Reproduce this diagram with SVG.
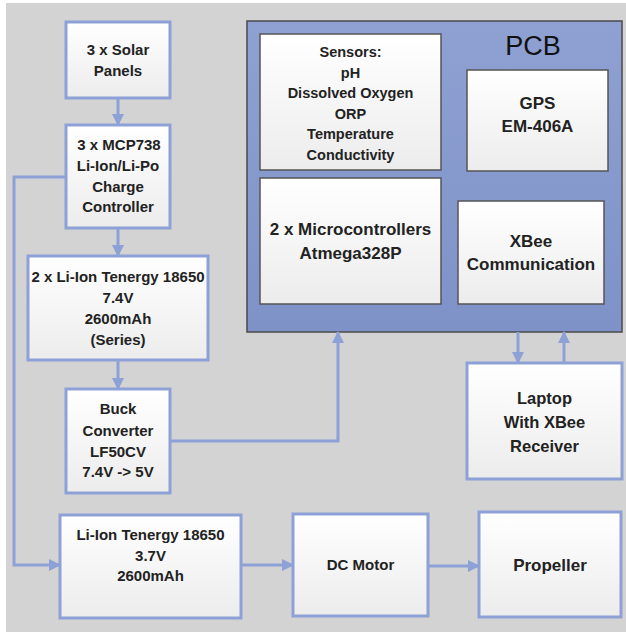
<svg xmlns="http://www.w3.org/2000/svg" width="626" height="632" viewBox="0 0 626 632">
<defs>
<linearGradient id="boxg" x1="0" y1="0" x2="0" y2="1">
<stop offset="0" stop-color="#ffffff"/>
<stop offset="1" stop-color="#ececec"/>
</linearGradient>
<linearGradient id="pcbg" x1="0" y1="0" x2="0" y2="1">
<stop offset="0" stop-color="#8fa1d2"/>
<stop offset="1" stop-color="#7e92c8"/>
</linearGradient>
<marker id="ah" viewBox="0 0 12 12" refX="11" refY="6" markerWidth="12" markerHeight="12" markerUnits="userSpaceOnUse" orient="auto">
<path d="M0,0 L12,6 L0,12 Z" fill="#8ea1d6"/>
</marker>
<style>
.ob{fill:url(#boxg);stroke:#8ea1d6;stroke-width:3}
.ib{fill:url(#boxg);stroke:#555;stroke-width:1.5}
.t{font-family:"Liberation Sans",Arial,sans-serif;font-weight:bold;fill:#222;text-anchor:middle}
.s15{font-size:15px}
.s145{font-size:14.5px}
.s17{font-size:17px}
.c{fill:none;stroke:#8ea1d6;stroke-width:3;marker-end:url(#ah)}
</style>
</defs>
<rect x="6" y="3" width="620" height="629" fill="#d3d3d3"/>

<g id="pcb">
<rect x="247" y="21" width="375" height="311" fill="url(#pcbg)" stroke="#4a4a4a" stroke-width="1.5"/>
<text x="533" y="55" font-family="'Liberation Sans',Arial,sans-serif" font-size="27" fill="#111" text-anchor="middle">PCB</text>
</g>

<g id="sensors">
<rect class="ib" x="260" y="34" width="181" height="136"/>
<text class="t s145"><tspan x="350.5" y="57">Sensors:</tspan><tspan x="350.5" y="77.5">pH</tspan><tspan x="350.5" y="98">Dissolved Oxygen</tspan><tspan x="350.5" y="118.5">ORP</tspan><tspan x="350.5" y="139">Temperature</tspan><tspan x="350.5" y="159.5">Conductivity</tspan></text>
</g>

<g id="gps">
<rect class="ib" x="467" y="70" width="141" height="101"/>
<text class="t s17"><tspan x="537.5" y="109">GPS</tspan><tspan x="537.5" y="132">EM-406A</tspan></text>
</g>

<g id="micro">
<rect class="ib" x="260" y="178" width="181" height="126"/>
<text class="t s17"><tspan x="350.5" y="235">2 x Microcontrollers</tspan><tspan x="350.5" y="259">Atmega328P</tspan></text>
</g>

<g id="xbee">
<rect class="ib" x="458" y="201" width="146" height="103"/>
<text class="t s17"><tspan x="531" y="247">XBee</tspan><tspan x="531" y="270">Communication</tspan></text>
</g>

<g id="solar">
<rect class="ob" x="66" y="22" width="104" height="76"/>
<text class="t s15"><tspan x="118" y="55">3 x Solar</tspan><tspan x="118" y="76">Panels</tspan></text>
</g>

<g id="charger">
<rect class="ob" x="66" y="125" width="104" height="103"/>
<text class="t s15"><tspan x="119" y="150">3 x MCP738</tspan><tspan x="118" y="171">Li-Ion/Li-Po</tspan><tspan x="118" y="191.5">Charge</tspan><tspan x="118" y="212">Controller</tspan></text>
</g>

<g id="battery2">
<rect class="ob" x="28" y="256" width="180" height="104"/>
<text class="t s15"><tspan x="118" y="282">2 x Li-Ion Tenergy 18650</tspan><tspan x="118" y="303">7.4V</tspan><tspan x="118" y="324">2600mAh</tspan><tspan x="118" y="345">(Series)</tspan></text>
</g>

<g id="buck">
<rect class="ob" x="66" y="389" width="104" height="104"/>
<text class="t s15"><tspan x="118" y="414">Buck</tspan><tspan x="118" y="436">Converter</tspan><tspan x="118" y="457">LF50CV</tspan><tspan x="118" y="477">7.4V -&gt; 5V</tspan></text>
</g>

<g id="battery1">
<rect class="ob" x="60" y="515" width="181" height="103"/>
<text class="t s15"><tspan x="150.5" y="540">Li-Ion Tenergy 18650</tspan><tspan x="150.5" y="561">3.7V</tspan><tspan x="150.5" y="581">2600mAh</tspan></text>
</g>

<g id="motor">
<rect class="ob" x="293" y="514" width="135" height="102"/>
<text class="t s15" x="360.5" y="570">DC Motor</text>
</g>

<g id="propeller">
<rect class="ob" x="479" y="512" width="142" height="105"/>
<text class="t s17" x="550" y="571">Propeller</text>
</g>

<g id="laptop">
<rect class="ob" x="467" y="363" width="155" height="116"/>
<text class="t" font-size="16.5"><tspan x="544.5" y="404">Laptop</tspan><tspan x="544.5" y="428">With XBee</tspan><tspan x="544.5" y="452">Receiver</tspan></text>
</g>

<g id="connectors">
<path class="c" d="M118,98 V125"/>
<path class="c" d="M118,228 V256"/>
<path class="c" d="M118,360 V389"/>
<path class="c" d="M66,177 H14 V565 H60"/>
<path class="c" d="M170,441 H338 V332"/>
<path class="c" d="M518,332 V363"/>
<path class="c" d="M564,363 V332"/>
<path class="c" d="M241,565 H293"/>
<path class="c" d="M428,566 H479"/>
</g>
</svg>
